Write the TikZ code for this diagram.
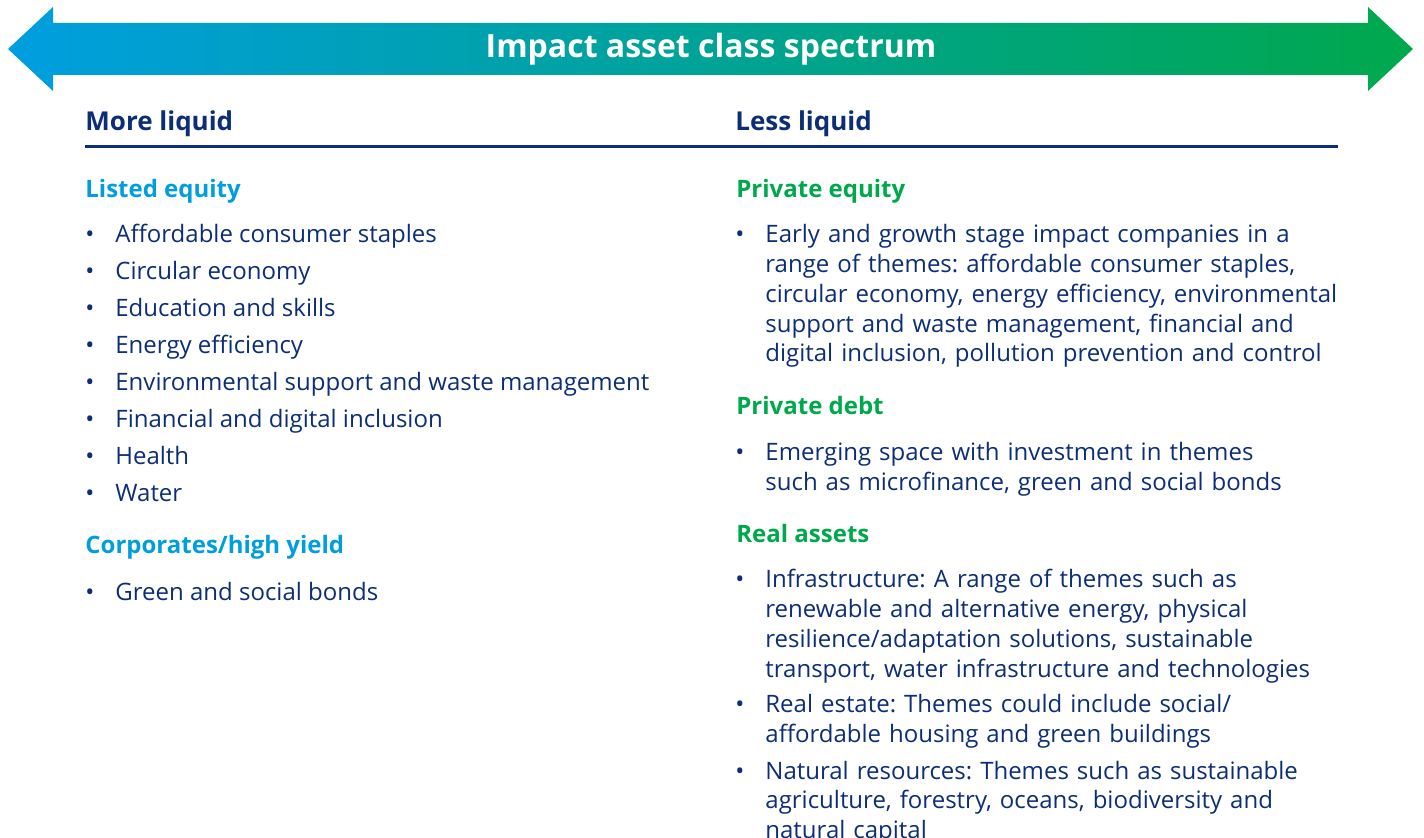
\documentclass[tikz,border=0pt]{standalone}
\usepackage{fontspec}
\setmainfont{Open Sans}
\frenchspacing
\usetikzlibrary{positioning}
\definecolor{navy}{RGB}{12,46,118}
\definecolor{skyblue}{RGB}{0,158,224}
\definecolor{leafgreen}{RGB}{0,168,76}
\tikzstyle{title} = [anchor=base, inner sep=0pt, text=white, font=\bfseries\fontsize{16}{19}\selectfont]
\tikzstyle{colhead} = [anchor=base west, inner sep=0pt, text=navy, font=\bfseries\fontsize{13}{16}\selectfont]
\tikzstyle{grouphead} = [anchor=base west, inner sep=0pt, font=\bfseries\fontsize{12}{15}\selectfont]
\tikzstyle{item} = [anchor=base west, inner sep=0pt, text=navy, font=\fontsize{12}{14.85}\selectfont]
\tikzstyle{block} = [item, text width=300pt, align=left]
\newcommand{\bul}{\llap{\textbullet\hspace{10.5pt}}}

\begin{document}
\begin{tikzpicture}[x=0.5pt, y=-0.5pt]
		\useasboundingbox (0,0) rectangle (1424,838);
		% spectrum arrow
		\shade[left color=skyblue, right color=leafgreen] (8,49) -- (53,7) -- (53,23) -- (1368,23) -- (1368,7) -- (1413,49) -- (1368,91) -- (1368,75) -- (53,75) -- (53,91) -- cycle;
		\node (Title) [title] at (711,58) {Impact asset class spectrum};
		\node (MoreLiquid) [colhead] at (85,131) {More liquid};
		\node (LessLiquid) [colhead] at (735,131) {Less liquid};
		\coordinate (RuleLeft) at (85,147);
		\coordinate (RuleRight) at (1338,147);
		\draw [navy, line width=1.5pt] (RuleLeft) -- (RuleRight);
		% left column
		\node (Listed) [grouphead, text=skyblue] at (85,198) {Listed equity};
		\node (Listed1) [item] at (115,243) {\bul Affordable consumer staples};
		\node (Listed2) [item] at (115,280) {\bul Circular economy};
		\node (Listed3) [item] at (115,317) {\bul Education and skills};
		\node (Listed4) [item] at (115,354) {\bul Energy efficiency};
		\node (Listed5) [item] at (115,391) {\bul Environmental support and waste management};
		\node (Listed6) [item] at (115,428) {\bul Financial and digital inclusion};
		\node (Listed7) [item] at (115,465) {\bul Health};
		\node (Listed8) [item] at (115,502) {\bul Water};
		\node (Corporates) [grouphead, text=skyblue] at (85,554) {Corporates/high yield};
		\node (Corporates1) [item] at (115,601) {\bul Green and social bonds};
		% right column
		\node (PrivEquity) [grouphead, text=leafgreen] at (736,198) {Private equity};
		\node (PrivEquity1) [block] at (765,243) {\bul Early and growth stage impact companies in a\\range of themes: affordable consumer staples,\\circular economy, energy efficiency, environmental\\support and waste management, financial and\\digital inclusion, pollution prevention and control};
		\node (PrivDebt) [grouphead, text=leafgreen] at (736,415) {Private debt};
		\node (PrivDebt1) [block] at (765,461) {\bul Emerging space with investment in themes\\such as microfinance, green and social bonds};
		\node (RealAssets) [grouphead, text=leafgreen] at (736,543) {Real assets};
		\node (RealAssets1) [block] at (765,588) {\bul Infrastructure: A range of themes such as\\renewable and alternative energy, physical\\resilience/adaptation solutions, sustainable\\transport, water infrastructure and technologies};
		\node (RealAssets2) [block] at (765,713) {\bul Real estate: Themes could include social/\\affordable housing and green buildings};
		\node (RealAssets3) [block] at (765,779) {\bul Natural resources: Themes such as sustainable\\agriculture, forestry, oceans, biodiversity and\\natural capital};
\end{tikzpicture}
\end{document}
